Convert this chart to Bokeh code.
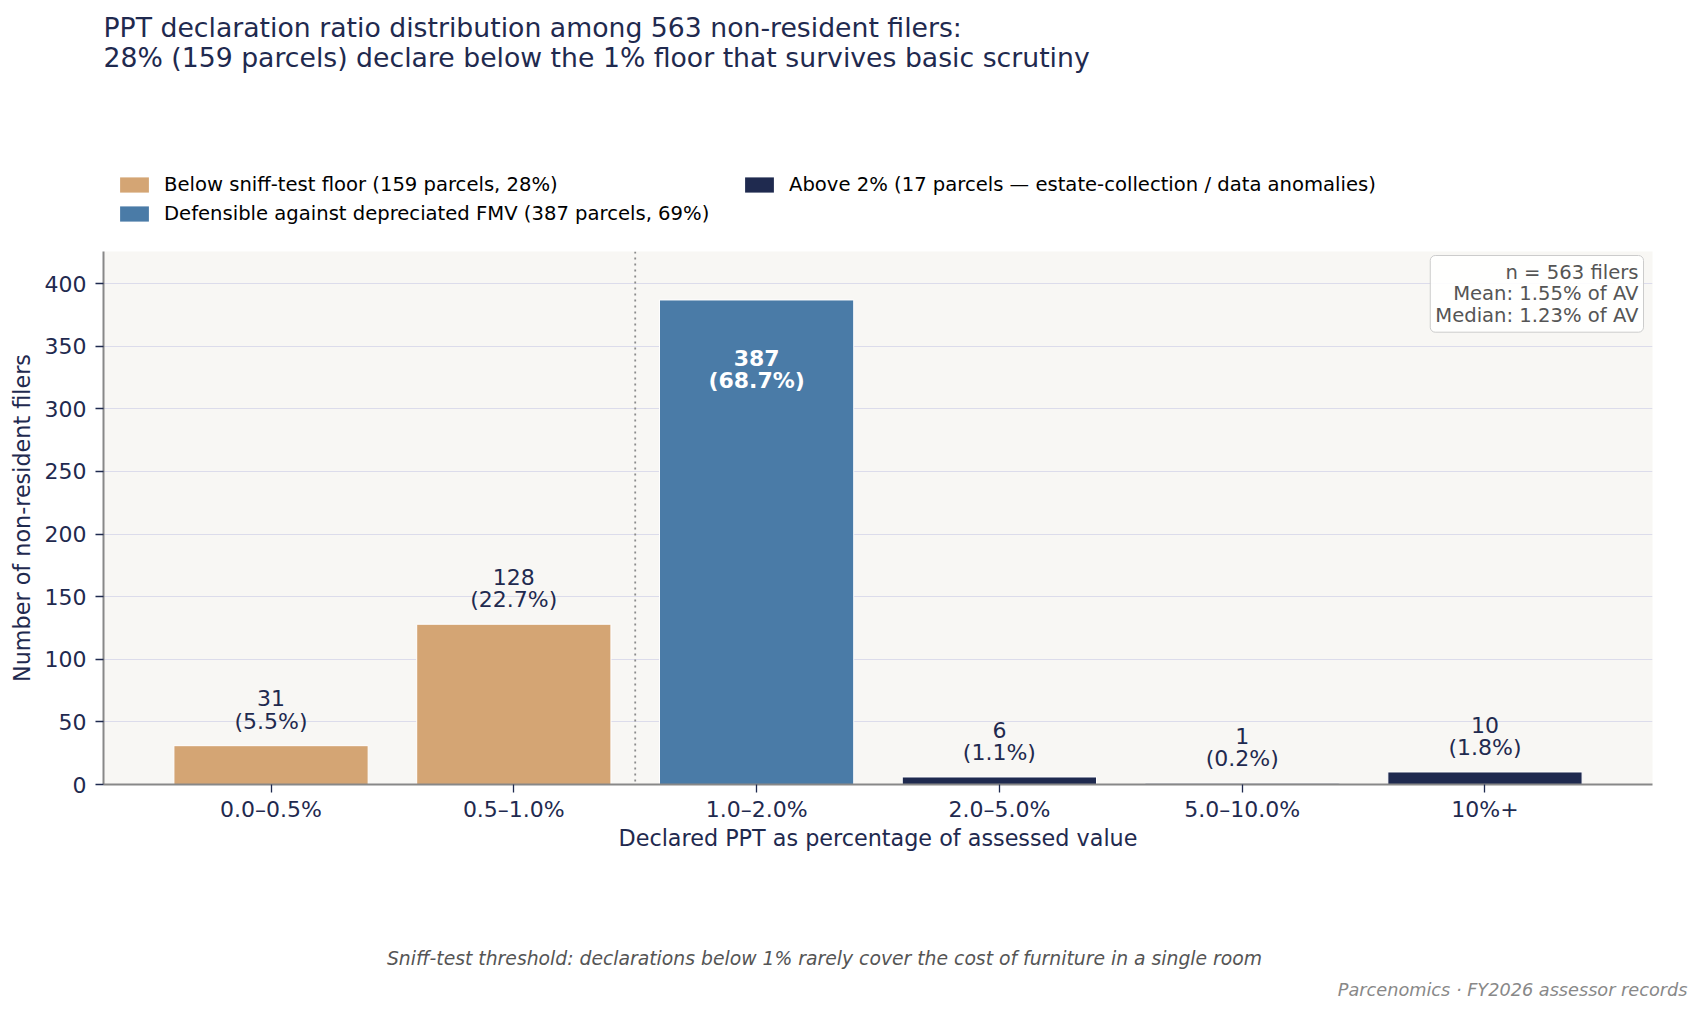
import numpy as np
from bokeh.plotting import figure
from bokeh.layouts import column
from bokeh.models import Range1d, FixedTicker, Span, Label, Legend, LegendItem, ColumnDataSource
from bokeh.core.properties import value
from bokeh.embed import file_html
from bokeh.resources import INLINE

# ---------------- data ----------------
categories = ["0.0–0.5%", "0.5–1.0%", "1.0–2.0%", "2.0–5.0%", "5.0–10.0%", "10%+"]
counts = [31, 128, 387, 6, 1, 10]
groups = ["below", "below", "defensible", "above", "above", "above"]
group_order = ["below", "defensible", "above"]
group_labels = {
    "below": "Below sniff-test floor (159 parcels, 28%)",
    "defensible": "Defensible against depreciated FMV (387 parcels, 69%)",
    "above": "Above 2% (17 parcels — estate-collection / data anomalies)",
}
group_colors = {"below": "#D4A574", "defensible": "#4A7BA7", "above": "#1F2A4F"}
y_ticks = [0, 50, 100, 150, 200, 250, 300, 350, 400]
threshold_category = "1.0–2.0%"
stats_text = "n = 563 filers\nMean: 1.55% of AV\nMedian: 1.23% of AV"
title_lines = [
    "PPT declaration ratio distribution among 563 non-resident filers:",
    "28% (159 parcels) declare below the 1% floor that survives basic scrutiny",
]
caption = "Sniff-test threshold: declarations below 1% rarely cover the cost of furniture in a single room"
source_note = "Parcenomics · FY2026 assessor records"

# ---------------- derived ----------------
total = sum(counts)
xs = list(range(len(categories)))
pcts = [c / total * 100 for c in counts]
labels = [f"{c}\n({p:.1f}%)" for c, p in zip(counts, pcts)]
ymax = max(counts) * 1.1

NAVY = "#1F2A4F"
FONT = "DejaVu Sans"

W, H = 1703, 1015
FL, FR, FT, FB = 103, 1652, 251, 784  # frame edges in canvas px
MAIN_H = 633                          # frame + x axis area
BOT_TOP = FT + MAIN_H                 # canvas y where the caption strip starts


def blank(height, y_top):
    """A figure whose data coordinates equal page pixels (y grows downward)."""
    f = figure(width=W, height=height, output_backend="svg", toolbar_location=None,
               x_range=Range1d(0, W), y_range=Range1d(y_top + height, y_top),
               x_axis_type=None, y_axis_type=None,
               min_border=0, min_border_left=0, min_border_right=0,
               min_border_top=0, min_border_bottom=0)
    f.frame_align = False
    f.title.visible = False
    f.outline_line_color = None
    f.xgrid.visible = False
    f.ygrid.visible = False
    f.background_fill_color = "white"
    f.border_fill_color = "white"
    return f


# ---------------- header: title + legend ----------------
top = blank(FT, 0)
for k, line in enumerate(title_lines):
    top.add_layout(Label(x=FL, y=27 + 30 * k, text=line, text_align="left",
                         text_baseline="middle", text_font=FONT, text_font_size="26.7px",
                         text_color=NAVY))

# legend proxies (one undrawn point each, only used for the legend swatch)
swatches = {g: top.vbar(x=np.array([np.nan]), top=np.array([np.nan]), width=1,
                        fill_color=group_colors[g], line_color=None)
            for g in group_order}
leg_kw = dict(label_text_font=FONT, label_text_font_size="19.6px", label_text_color="black",
              glyph_width=36, glyph_height=19, label_height=23, label_standoff=12,
              spacing=6, padding=0, margin=0, border_line_color=None,
              background_fill_alpha=0)
leg1 = Legend(items=[LegendItem(label=group_labels[g], renderers=[swatches[g]])
                     for g in ["below", "defensible"]], location=(116, 26), **leg_kw)
leg2 = Legend(items=[LegendItem(label=group_labels["above"], renderers=[swatches["above"]])],
              location=(741, 55), **leg_kw)
top.add_layout(leg1, "center")
top.add_layout(leg2, "center")

# ---------------- main chart ----------------
p = figure(width=W, height=MAIN_H, output_backend="svg", toolbar_location=None,
           x_range=Range1d(-0.69, len(categories) - 1 + 0.69),
           y_range=Range1d(0, ymax),
           min_border_left=FL, min_border_right=W - FR,
           min_border_top=0, min_border_bottom=MAIN_H - (FB - FT))
p.title.visible = False
p.outline_line_color = None
p.background_fill_color = "#F8F7F4"
p.border_fill_color = "white"

p.xgrid.visible = False
p.ygrid.grid_line_color = "#DCDCEB"
p.ygrid.grid_line_width = 1
p.ygrid.ticker = FixedTicker(ticks=y_ticks)

for ax in (p.xaxis[0], p.yaxis[0]):
    ax.axis_line_color = "#888888"
    ax.axis_line_width = 2
    ax.major_tick_line_color = NAVY
    ax.major_tick_line_width = 1.3
    ax.major_tick_in = 0
    ax.major_tick_out = 8
    ax.minor_tick_line_color = None
    ax.major_label_text_font = FONT
    ax.major_label_text_font_size = "22px"
    ax.major_label_text_color = NAVY
    ax.axis_label_text_font = FONT
    ax.axis_label_text_font_size = "22.3px"
    ax.axis_label_text_color = NAVY
    ax.axis_label_text_font_style = "normal"

p.xaxis.ticker = FixedTicker(ticks=xs)
p.xaxis.major_label_overrides = {i: c for i, c in enumerate(categories)}
p.xaxis.axis_label = "Declared PPT as percentage of assessed value"
p.xaxis.major_label_standoff = 4
p.xaxis.axis_label_standoff = 0
p.yaxis.ticker = FixedTicker(ticks=y_ticks)
p.yaxis.axis_label = "Number of non-resident filers"
p.yaxis.major_label_standoff = 9
p.yaxis.axis_label_standoff = 7

for g in group_order:
    idx = [i for i, gg in enumerate(groups) if gg == g]
    src = ColumnDataSource(dict(x=[xs[i] for i in idx], top=[counts[i] for i in idx]))
    p.vbar(x="x", top="top", width=0.8, bottom=0, source=src,
           fill_color=group_colors[g], line_color="white", line_width=1)

thr = categories.index(threshold_category) - 0.5
p.add_layout(Span(location=thr, dimension="height", line_color="#8C8C8C",
                  line_dash="2 4", line_width=1.8))

big = [i for i, c in enumerate(counts) if c > ymax * 0.5]
small = [i for i in range(len(counts)) if i not in big]
src_out = ColumnDataSource(dict(x=[xs[i] for i in small], y=[counts[i] for i in small],
                                t=[labels[i] for i in small]))
p.text(x="x", y="y", text="t", source=src_out, text_align="center", text_baseline="bottom",
       y_offset=-12, text_font=value(FONT), text_font_size="22px", text_color=NAVY,
       text_line_height=0.89)
src_in = ColumnDataSource(dict(x=[xs[i] for i in big], y=[counts[i] * 0.857 for i in big],
                               t=[labels[i] for i in big]))
p.text(x="x", y="y", text="t", source=src_in, text_align="center", text_baseline="middle",
       text_font=value(FONT), text_font_size="22px", text_color="white",
       text_font_style="bold", text_line_height=0.89)

p.add_layout(Label(x=1643 - FL, y=FB - 255, x_units="screen", y_units="screen",
                   text=stats_text, text_align="right", text_baseline="top",
                   text_font=FONT, text_font_size="19.6px", text_color="#555555",
                   background_fill_color="white", background_fill_alpha=0.9,
                   border_line_color="#CCCCCC", border_line_width=1,
                   padding=5, border_radius=5, text_line_height=0.95))

# ---------------- footer: caption + source ----------------
bot = blank(H - BOT_TOP, BOT_TOP)
bot.add_layout(Label(x=824, y=958, text=caption, text_align="center", text_baseline="middle",
                     text_font=FONT, text_font_size="18.8px", text_font_style="italic",
                     text_color="#555555"))
bot.add_layout(Label(x=1687, y=989, text=source_note, text_align="right",
                     text_baseline="middle", text_font=FONT, text_font_size="17.7px",
                     text_font_style="italic", text_color="#888888"))

page = column(top, p, bot, spacing=0)
open("out.html", "w").write(file_html(page, INLINE))
